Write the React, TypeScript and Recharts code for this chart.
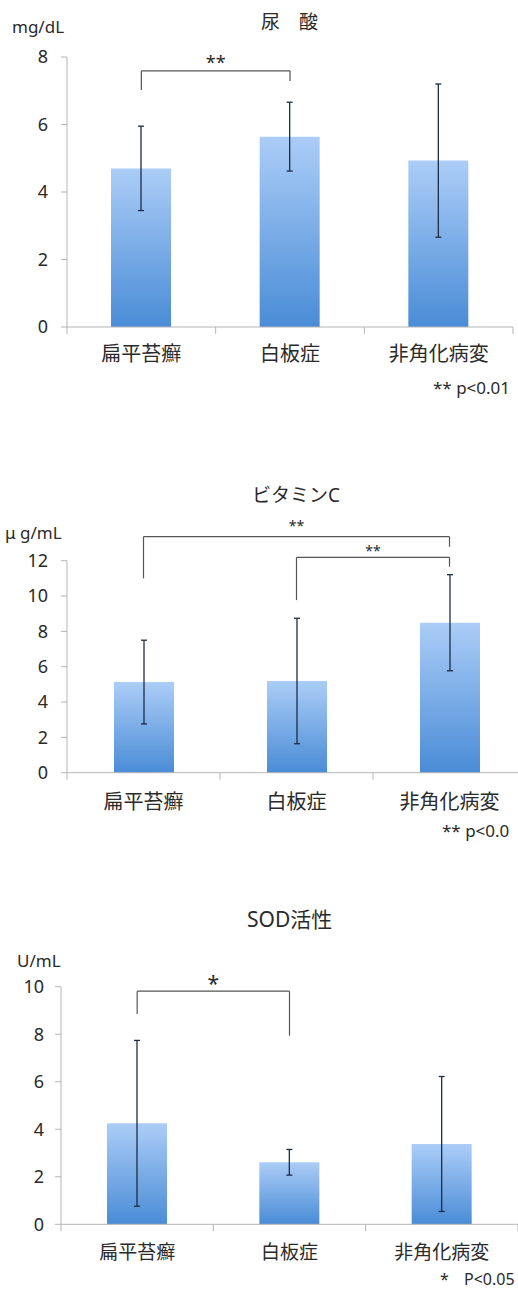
import React from "react";
import { Bar, BarChart, ErrorBar, ReferenceLine, XAxis, YAxis } from "recharts";

const categories = ["扁平苔癬", "白板症", "非角化病変"];

// 尿酸 (mg/dL)
const uricMean = [4.7, 5.64, 4.93];
const uricSd = [1.25, 1.02, 2.27];
const uricTicks = [0, 2, 4, 6, 8];

// ビタミンC (μg/mL)
const vitcMean = [5.13, 5.19, 8.49];
const vitcSd = [2.37, 3.55, 2.72];
const vitcTicks = [0, 2, 4, 6, 8, 10, 12];

// SOD活性 (U/mL)
const sodMean = [4.25, 2.61, 3.38];
const sodSd = [3.49, 0.54, 2.84];
const sodTicks = [0, 2, 4, 6, 8, 10];

// significance brackets: category index from/to, level and leg ends in data units
type Bracket = { from: number; to: number; level: number; leftEnd: number; rightEnd: number; mark: string };
const uricBrackets: Bracket[] = [{ from: 0, to: 1, level: 7.59, leftEnd: 7.02, rightEnd: 7.29, mark: "**" }];
const vitcBrackets: Bracket[] = [
  { from: 0, to: 2, level: 13.36, leftEnd: 11.0, rightEnd: 12.79, mark: "**" },
  { from: 1, to: 2, level: 12.19, leftEnd: 9.77, rightEnd: 11.66, mark: "**" },
];
const sodBrackets: Bracket[] = [{ from: 0, to: 1, level: 9.81, leftEnd: 8.85, rightEnd: 7.94, mark: "*" }];

const FONT = '"Noto Sans", "Noto Sans CJK JP", sans-serif';
const AXIS = "#b5b5b5";
const INK = "#2a2a2a";

function Note({ x, y, size, children }: any) {
  return (
    <div
      style={{
        position: "absolute",
        left: x,
        top: y - size / 2,
        fontSize: size,
        lineHeight: `${size}px`,
        fontFamily: FONT,
        color: INK,
        whiteSpace: "nowrap",
      }}
    >
      {children}
    </div>
  );
}

// category label plus small tick marks at the category boundaries (Excel style)
function CatTick(props: any) {
  const { x, y, payload, index, visibleTicksCount, half, gap, fontSize } = props;
  const axisY = y - gap;
  return (
    <g>
      <line x1={x - half} y1={axisY} x2={x - half} y2={axisY + 7} stroke={AXIS} />
      {index === visibleTicksCount - 1 && <line x1={x + half} y1={axisY} x2={x + half} y2={axisY + 7} stroke={AXIS} />}
      <text x={x} y={y} dy="0.71em" textAnchor="middle" fontSize={fontSize} fill={INK} fontFamily={FONT}>
        {payload.value}
      </text>
    </g>
  );
}

function Panel(props: any) {
  const { top, width, height, margin, yWidth, ticks, mean, sd, brackets, gradId, catFont, catMargin, yMargin, markFont, markOffsets } = props;
  const data = categories.map((name, i) => ({ name, mean: mean[i], sd: sd[i] }));
  const domainMax = ticks[ticks.length - 1];
  const half = (width - margin.left - margin.right - yWidth) / categories.length / 2;
  return (
    <div style={{ position: "absolute", left: 0, top, width: 518, height, overflow: "hidden" }}>
      <BarChart width={width} height={height} data={data} margin={margin}>
        <defs>
          <linearGradient id={gradId} x1="0" y1="0" x2="0" y2="1">
            <stop offset="0%" stopColor="#abcdf7" />
            <stop offset="100%" stopColor="#4a8cd6" />
          </linearGradient>
        </defs>
        <XAxis
          dataKey="name"
          height={45}
          axisLine={{ stroke: AXIS }}
          tickLine={false}
          tickSize={6}
          tickMargin={catMargin}
          interval={0}
          tick={<CatTick half={half} gap={catMargin + 6} fontSize={catFont} />}
        />
        <YAxis
          width={yWidth}
          domain={[0, domainMax]}
          ticks={ticks}
          interval={0}
          axisLine={{ stroke: AXIS }}
          tickLine={{ stroke: AXIS }}
          tickSize={6}
          tickMargin={yMargin}
          tick={{ fontSize: 18, fill: INK, fontFamily: FONT }}
        />
        <Bar dataKey="mean" barSize={60} fill={`url(#${gradId})`} isAnimationActive={false}>
          <ErrorBar dataKey="sd" width={3} stroke="#1e2c48" strokeWidth={1.3} isAnimationActive={false} />
        </Bar>
        {brackets.map((b: Bracket, i: number) => {
          const a = categories[b.from];
          const c = categories[b.to];
          return (
            <React.Fragment key={i}>
              <ReferenceLine
                ifOverflow="visible"
                stroke="#555"
                strokeWidth={1.2}
                segment={[{ x: a, y: b.level }, { x: c, y: b.level }]}
                label={{ value: b.mark, position: "top", offset: markOffsets[i], fontSize: markFont, fill: INK, fontFamily: FONT }}
              />
              <ReferenceLine ifOverflow="visible" stroke="#555" strokeWidth={1.2} segment={[{ x: a, y: b.level }, { x: a, y: b.leftEnd }]} />
              <ReferenceLine ifOverflow="visible" stroke="#555" strokeWidth={1.2} segment={[{ x: c, y: b.level }, { x: c, y: b.rightEnd }]} />
            </React.Fragment>
          );
        })}
      </BarChart>
    </div>
  );
}

export default function App() {
  return (
    <div style={{ position: "absolute", left: 0, top: 0, width: 518, height: 1290, background: "#fff" }}>
      <Panel
        top={0}
        width={518}
        height={400}
        margin={{ top: 57, right: 5, left: 0, bottom: 28 }}
        yWidth={67}
        ticks={uricTicks}
        mean={uricMean}
        sd={uricSd}
        brackets={uricBrackets}
        gradId="g1"
        catFont={20}
        catMargin={14}
        yMargin={13}
        markFont={18}
        markOffsets={[2]}
      />
      <Note x={261} y={22} size={19}>尿　酸</Note>
      <Note x={12} y={26} size={17}>mg/dL</Note>
      <Note x={433} y={387} size={17}>** p&lt;0.01</Note>

      <Panel
        top={470}
        width={526}
        height={380}
        margin={{ top: 90.7, right: 0, left: 0, bottom: 32.3 }}
        yWidth={67}
        ticks={vitcTicks}
        mean={vitcMean}
        sd={vitcSd}
        brackets={vitcBrackets}
        gradId="g2"
        catFont={20}
        catMargin={16}
        yMargin={13}
        markFont={14}
        markOffsets={[6, 1]}
      />
      <Note x={252} y={495} size={19}>ビタミンC</Note>
      <Note x={5} y={532} size={17}>μ g/mL</Note>
      <Note x={442} y={830} size={17}>** p&lt;0.0</Note>

      <Panel
        top={890}
        width={518}
        height={400}
        margin={{ top: 96.7, right: 0, left: 0, bottom: 20.7 }}
        yWidth={61}
        ticks={sodTicks}
        mean={sodMean}
        sd={sodSd}
        brackets={sodBrackets}
        gradId="g3"
        catFont={19}
        catMargin={15}
        yMargin={11}
        markFont={21}
        markOffsets={[0]}
      />
      <Note x={247} y={919} size={21}>SOD活性</Note>
      <Note x={17} y={960} size={17}>U/mL</Note>
      <Note x={440} y={1279} size={16}>*</Note>
      <Note x={464} y={1279} size={16}>P&lt;0.05</Note>
    </div>
  );
}
